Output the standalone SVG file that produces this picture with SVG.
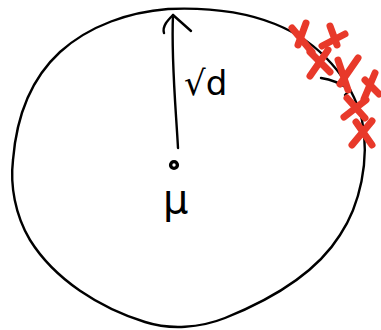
<svg xmlns="http://www.w3.org/2000/svg" width="381" height="330" viewBox="0 0 381 330">
<style>
.ink{fill:none;stroke:#000;stroke-width:2.4;stroke-linecap:round;stroke-linejoin:round}
.x{fill:none;stroke:#e8392a;stroke-width:7;stroke-linecap:round;stroke-linejoin:round}
.t{font-family:"DejaVu Sans",sans-serif;fill:#000}
</style>
<rect width="381" height="330" fill="#fff"/>
<g id="boundary">
<path class="ink" d="M168,9 C215,7 250,14 275,24 C320,42 352,80 362,120 C370,160 360,205 340,235 C315,275 270,300 225,318 C200,328 170,330 145,322 C100,308 55,280 30,240 C15,215 10,185 13,160 C17,110 35,75 60,52 C90,25 130,12 168,9 Z"/>
</g>
<g id="connectors">
<path class="ink" d="M178,148 C176,110 171,60 173,15"/>
<path class="ink" d="M164,33 C162,26 168,20 173,15 L191,31"/>
<path class="ink" d="M321,78 Q336,80 350,90 M342,84 L350,90 L345,95"/>
</g>
<g id="mu">
<circle cx="174" cy="165" r="3.4" fill="none" stroke="#000" stroke-width="3.4"/>
<text class="t" x="163" y="213" font-size="40">μ</text>
</g>
<g id="sqrt-d">
<text class="t" x="184" y="95" font-size="34">√d</text>
</g>
<g id="samples">
<path class="x" d="M292,28 L312,52 M306,23 L298,45"/>
<path class="x" d="M330,26 L337,45 M345,34 L322,46"/>
<path class="x" d="M310,52 L330,72 M328,50 L310,76"/>
<path class="x" d="M338,60 L348,90 M358,58 L340,84"/>
<path class="x" d="M365,80 L379,94 M375,73 L364,99"/>
<path class="x" d="M347,98 L365,118 M366,100 L344,117"/>
<path class="x" d="M356,122 L372,145 M372,121 L352,145"/>
</g>
</svg>
